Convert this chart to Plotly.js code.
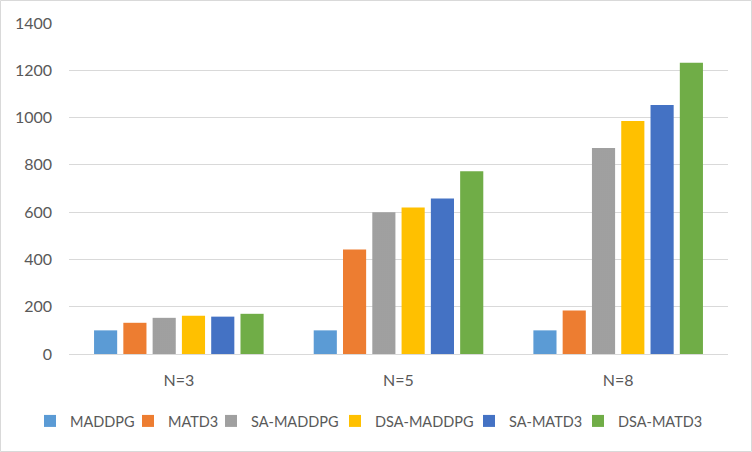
<!DOCTYPE html>
<html>
<head>
<meta charset="utf-8">
<script src="https://cdn.plot.ly/plotly-3.0.1.min.js"></script>
<style>html,body{margin:0;padding:0;background:#fff;}#chart{width:752px;height:452px;}</style>
</head>
<body>
<div id="chart"></div>
<script>
var categories = ["N=3", "N=5", "N=8"];
var seriesNames = ["MADDPG", "MATD3", "SA-MADDPG", "DSA-MADDPG", "SA-MATD3", "DSA-MATD3"];
var MADDPG = [100, 100, 100];
var MATD3 = [132, 442, 184];
var SA_MADDPG = [153, 600, 871];
var DSA_MADDPG = [162, 620, 986];
var SA_MATD3 = [158, 658, 1053];
var DSA_MATD3 = [170, 773, 1232];
var yTicks = [0, 200, 400, 600, 800, 1000, 1200, 1400];

var values = [MADDPG, MATD3, SA_MADDPG, DSA_MADDPG, SA_MATD3, DSA_MATD3];
var colors = ["#5B9BD5", "#ED7D31", "#A5A5A5", "#FFC000", "#4472C4", "#70AD47"];

/* layout: left edge (px) of each legend entry's text in the 752px canvas */
var legendTextLeft = [67, 165, 248, 372, 506, 615];

var traces = seriesNames.map(function (name, i) {
  var t = {
    type: "bar",
    name: name,
    x: categories,
    y: values[i],
    legend: i === 0 ? "legend" : "legend" + (i + 1),
    marker: { color: colors[i], line: { width: 0 } },
    hoverinfo: "none"
  };
  if (name === "SA-MADDPG") {
    t.marker.pattern = { shape: ".", fgcolor: "#939393", bgcolor: "#A8A8A8", size: 2, solidity: 0.4, fillmode: "replace" };
  }
  return t;
});

var layout = {
  width: 752,
  height: 452,
  margin: { l: 69, r: 24, t: 23, b: 98, autoexpand: false },
  paper_bgcolor: "#ffffff",
  plot_bgcolor: "#ffffff",
  font: { family: "Lato, Carlito, sans-serif", color: "#595959", size: 16 },
  barmode: "group",
  bargap: 0.2,
  bargroupgap: 0.21,
  showlegend: true,
  xaxis: {
    type: "category",
    showgrid: false,
    showline: true,
    linecolor: "#D9D9D9",
    linewidth: 1,
    ticks: "",
    ticklabelstandoff: 12,
    tickfont: { size: 16, color: "#595959" }
  },
  yaxis: {
    range: [0, 1400],
    tickvals: yTicks,
    ticktext: yTicks.map(String),
    showgrid: true,
    gridcolor: "#D9D9D9",
    gridwidth: 1,
    zeroline: true,
    zerolinecolor: "#D9D9D9",
    showline: false,
    ticks: "",
    ticklabelstandoff: 16,
    tickfont: { size: 16, color: "#595959" }
  },
  shapes: [{
    type: "rect", xref: "paper", yref: "paper",
    x0: -68.5/659, x1: 1 + 23.5/659, y0: -97.5/331, y1: 1 + 22.5/331,
    line: { color: "#D9D9D9", width: 1 }
  }]
};

legendTextLeft.forEach(function (px, i) {
  var key = i === 0 ? "legend" : "legend" + (i + 1);
  layout[key] = {
    orientation: "h",
    xref: "container", yref: "container",
    x: (px - 37) / 752, xanchor: "left",
    y: 1 - 421 / 452, yanchor: "middle",
    font: { family: "Lato, sans-serif", size: 14.5, color: "#595959" },
    bgcolor: "rgba(0,0,0,0)",
    itemclick: false
  };
});

Plotly.newPlot("chart", traces, layout, { staticPlot: true, displayModeBar: false });
</script>
</body>
</html>
